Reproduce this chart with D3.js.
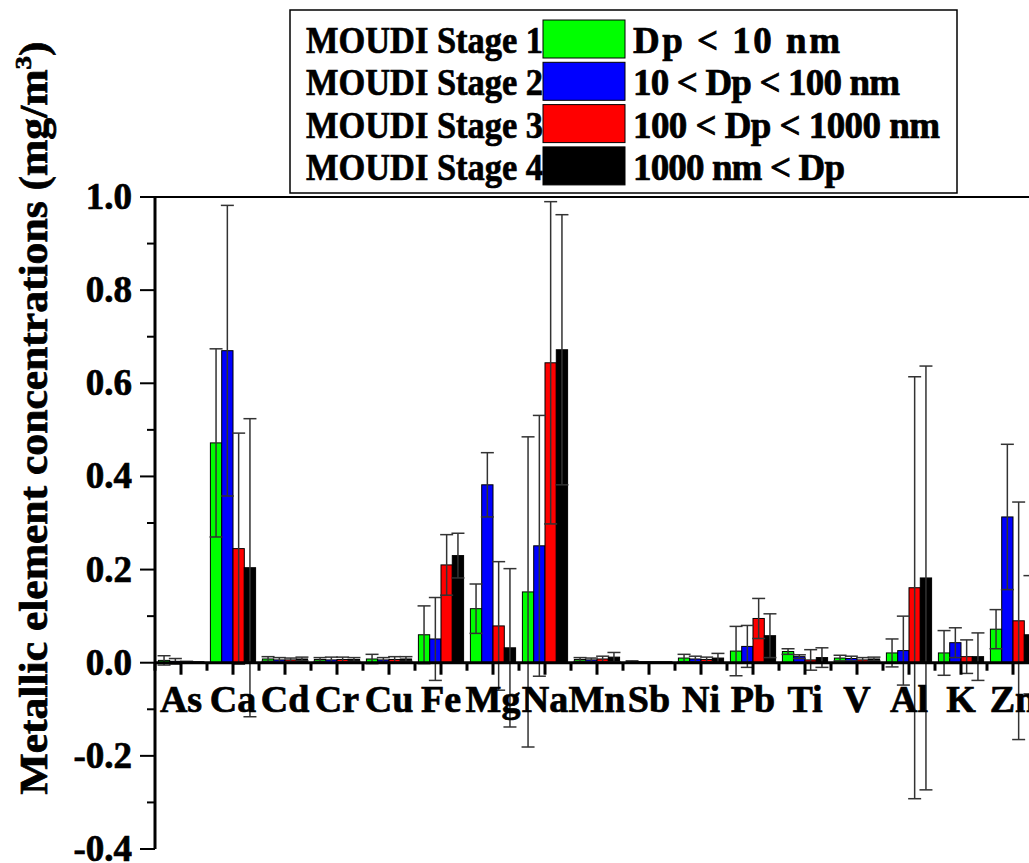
<!DOCTYPE html>
<html>
<head>
<meta charset="utf-8">
<script src="https://cdn.jsdelivr.net/npm/d3@7"></script>
<style>
  html, body { margin: 0; padding: 0; background: #fff; }
  svg { display: block; }
</style>
</head>
<body>
<svg id="chart" width="1029" height="863"></svg>
<script>
// ---- data ----
const categories = ["As","Ca","Cd","Cr","Cu","Fe","Mg","Na","Mn","Sb","Ni","Pb","Ti","V","Al","K","Zn"];
const seriesNames = ["MOUDI Stage 1","MOUDI Stage 2","MOUDI Stage 3","MOUDI Stage 4"];
const seriesRanges = ["Dp < 10 nm","10 < Dp < 100 nm","100 < Dp < 1000 nm","1000 nm < Dp"];
const seriesColors = ["#00ff00","#0000ff","#ff0000","#000000"];

const stage1 = [0.005,0.472,0.008,0.007,0.008,0.060,0.116,0.152,0.007,0.002,0.010,0.025,0.024,0.010,0.021,0.021,0.072];
const err1   = [0.010,0.202,0.005,0.004,0.010,0.062,0.053,0.333,0.004,0.002,0.008,0.053,0.006,0.006,0.030,0.048,0.042];
const stage2 = [0.003,0.670,0.006,0.006,0.006,0.051,0.382,0.251,0.006,0.001,0.008,0.035,0.013,0.009,0.026,0.043,0.313];
const err2   = [0.006,0.312,0.005,0.006,0.005,0.089,0.069,0.280,0.004,0.001,0.006,0.045,0.004,0.005,0.074,0.032,0.156];
const stage3 = [0.002,0.245,0.006,0.007,0.007,0.210,0.079,0.644,0.008,0.001,0.007,0.095,0.006,0.006,0.161,0.013,0.090];
const err3   = [0.001,0.248,0.004,0.005,0.006,0.065,0.138,0.346,0.006,0.001,0.005,0.043,0.022,0.005,0.453,0.036,0.255];
const stage4 = [0.001,0.204,0.008,0.007,0.008,0.230,0.032,0.672,0.012,0.001,0.010,0.058,0.011,0.008,0.182,0.013,0.060];
const err4   = [0.001,0.320,0.004,0.004,0.005,0.048,0.170,0.290,0.010,0.001,0.010,0.047,0.021,0.004,0.455,0.051,0.127];

const yMajorTicks = [-0.4,-0.2,0.0,0.2,0.4,0.6,0.8,1.0];
const yMinorTicks = [-0.3,-0.1,0.1,0.3,0.5,0.7,0.9];
const yTitle = "Metallic element concentrations (mg/m";

const values = [stage1, stage2, stage3, stage4];
const errors = [err1, err2, err3, err4];

const FONT = "Liberation Serif";
function txt(sel) {
  return sel.style("font-family", FONT).style("font-weight", "bold").attr("fill", "#000")
    .attr("stroke", "#000").attr("stroke-width", 0.7);
}

// ---- layout ----
const svg = d3.select("#chart");
svg.append("rect").attr("width",1029).attr("height",863).attr("fill","#fff");

const axisX = 155, yTop = 197, yBottom = 849, band = 52;
const y = d3.scaleLinear().domain([-0.4, 1.0]).range([yBottom, yTop]);
const x = d3.scaleBand().domain(categories).range([axisX, axisX + band * categories.length]).padding(0);
const xs = d3.scaleBand().domain(d3.range(4)).range([-22.6, 22.6]).padding(0);

const flat = [];
categories.forEach((c, i) => {
  for (let s = 0; s < 4; s++) flat.push({c, s, v: values[s][i], e: errors[s][i]});
});

// top frame line
svg.append("line").attr("x1", axisX).attr("x2", 1029).attr("y1", yTop).attr("y2", yTop)
  .attr("stroke", "#000").attr("stroke-width", 2);

// bars
svg.append("g").selectAll("rect").data(flat).join("rect")
  .attr("x", d => x(d.c) + x.bandwidth()/2 + xs(d.s))
  .attr("width", xs.bandwidth())
  .attr("y", d => y(Math.max(0, d.v)))
  .attr("height", d => Math.abs(y(d.v) - y(0)))
  .attr("fill", d => seriesColors[d.s])
  .attr("stroke", "#000").attr("stroke-width", 1);

// error bars
const eg = svg.append("g").attr("stroke", "#333").attr("stroke-width", 1.5);
flat.forEach(d => {
  const cx = x(d.c) + x.bandwidth()/2 + xs(d.s) + xs.bandwidth()/2;
  const y1 = y(d.v + d.e), y2 = y(d.v - d.e);
  eg.append("line").attr("x1", cx).attr("x2", cx).attr("y1", y1).attr("y2", y2);
  eg.append("line").attr("x1", cx - 6.5).attr("x2", cx + 6.5).attr("y1", y1).attr("y2", y1);
  eg.append("line").attr("x1", cx - 6.5).attr("x2", cx + 6.5).attr("y1", y2).attr("y2", y2);
});

// x axis at zero
const xAxisG = svg.append("g");
xAxisG.append("line").attr("x1", axisX).attr("x2", 1029).attr("y1", y(0)).attr("y2", y(0))
  .attr("stroke", "#000").attr("stroke-width", 3);
xAxisG.selectAll("line.maj").data(categories).join("line").attr("class","maj")
  .attr("x1", d => x(d) + x.bandwidth()/2).attr("x2", d => x(d) + x.bandwidth()/2)
  .attr("y1", y(0)).attr("y2", y(0) + 12).attr("stroke", "#000").attr("stroke-width", 3);
xAxisG.selectAll("line.min").data(categories).join("line").attr("class","min")
  .attr("x1", d => x(d)).attr("x2", d => x(d))
  .attr("y1", y(0)).attr("y2", y(0) + 8).attr("stroke", "#000").attr("stroke-width", 3);
txt(xAxisG.selectAll("text").data(categories).join("text"))
  .attr("x", d => x(d) + x.bandwidth()/2).attr("y", y(0) + 49)
  .attr("text-anchor", "middle").style("font-size", "38px").text(d => d);

// y axis
const yAxisG = svg.append("g");
yAxisG.append("line").attr("x1", axisX).attr("x2", axisX).attr("y1", yTop).attr("y2", yBottom)
  .attr("stroke", "#000").attr("stroke-width", 3);
yAxisG.selectAll("line.maj").data(yMajorTicks).join("line").attr("class","maj")
  .attr("x1", axisX - 15).attr("x2", axisX).attr("y1", d => y(d)).attr("y2", d => y(d))
  .attr("stroke", "#000").attr("stroke-width", 2);
yAxisG.selectAll("line.min").data(yMinorTicks).join("line").attr("class","min")
  .attr("x1", axisX - 8).attr("x2", axisX).attr("y1", d => y(d)).attr("y2", d => y(d))
  .attr("stroke", "#000").attr("stroke-width", 2);
txt(yAxisG.selectAll("text").data(yMajorTicks).join("text"))
  .attr("x", axisX - 23).attr("y", d => y(d) + 12)
  .attr("text-anchor", "end").style("font-size", "37px")
  .text(d => d3.format(".1f")(d).replace("\u2212", "-"));

// y title
const yt = txt(svg.append("text"))
  .attr("transform", "translate(47,418) rotate(-90)")
  .attr("text-anchor", "middle").style("font-size", "39px")
  .attr("textLength", 753).attr("lengthAdjust", "spacingAndGlyphs");
yt.append("tspan").text(yTitle);
yt.append("tspan").style("font-size", "24px").attr("dy", -16).text("3");
yt.append("tspan").attr("dy", 16).text(")");

// legend
const lg = svg.append("g");
lg.append("rect").attr("x", 290).attr("y", 10).attr("width", 667).attr("height", 183)
  .attr("fill", "#fff").attr("stroke", "#000").attr("stroke-width", 1.5);
const rangeWidths = [207, 267, 307, 212];
seriesNames.forEach((n, i) => {
  const ry = 20 + i * 42.3;
  lg.append("rect").attr("x", 543).attr("y", ry).attr("width", 82).attr("height", 38)
    .attr("fill", seriesColors[i]).attr("stroke", "#000").attr("stroke-width", 1);
  txt(lg.append("text")).attr("x", 543).attr("y", ry + 33).attr("text-anchor", "end")
    .style("font-size", "38px").attr("textLength", 237).attr("lengthAdjust", "spacingAndGlyphs").text(n);
  txt(lg.append("text")).attr("x", 633).attr("y", ry + 33)
    .style("font-size", "37px").attr("textLength", rangeWidths[i]).attr("lengthAdjust", "spacing")
    .text(seriesRanges[i]);
});
</script>
</body>
</html>
